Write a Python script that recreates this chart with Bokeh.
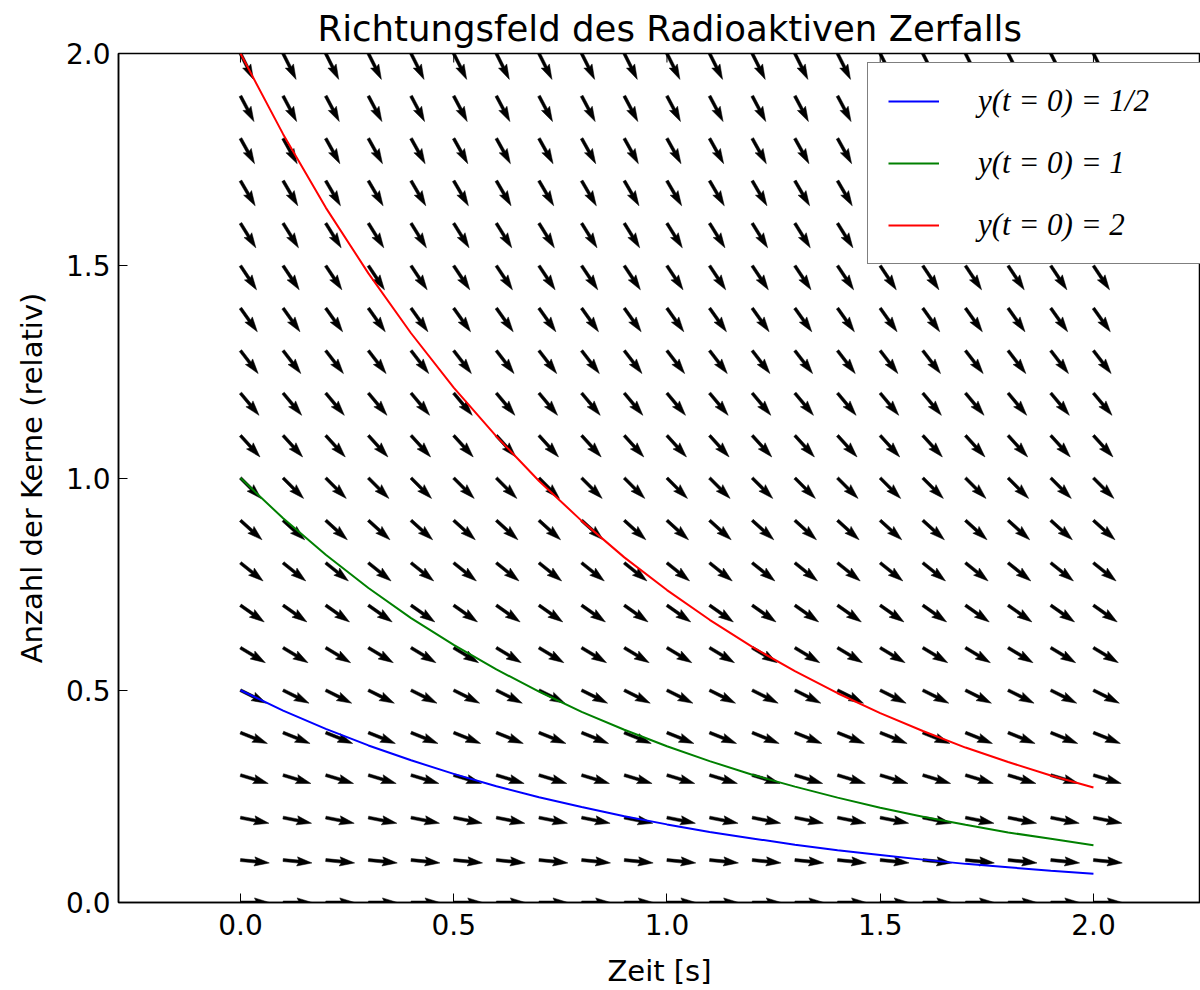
import math
from bokeh.plotting import figure
from bokeh.models import Range1d, Legend, LegendItem, FixedTicker, ColumnDataSource, PrintfTickFormatter
from bokeh.embed import file_html
from bokeh.resources import INLINE

# ---- data ----
curve_t = [0.0, 0.1, 0.2, 0.3, 0.4, 0.5, 0.6, 0.7, 0.8, 0.9, 1.0,
           1.1, 1.2, 1.3, 1.4, 1.5, 1.6, 1.7, 1.8, 1.9, 2.0]
curve_half = [0.500, 0.452, 0.409, 0.370, 0.335, 0.303, 0.274, 0.248, 0.225, 0.203, 0.184,
              0.166, 0.151, 0.136, 0.123, 0.112, 0.101, 0.091, 0.083, 0.075, 0.068]
curve_one = [1.000, 0.905, 0.819, 0.741, 0.670, 0.607, 0.549, 0.497, 0.449, 0.407, 0.368,
             0.333, 0.301, 0.273, 0.247, 0.223, 0.202, 0.183, 0.165, 0.150, 0.135]
curve_two = [2.000, 1.810, 1.637, 1.482, 1.341, 1.213, 1.098, 0.993, 0.899, 0.813, 0.736,
             0.666, 0.602, 0.545, 0.493, 0.446, 0.404, 0.365, 0.331, 0.299, 0.271]
curve_labels = ["y(t = 0) = 1/2", "y(t = 0) = 1", "y(t = 0) = 2"]
curve_colors = ["#0000ff", "#008000", "#ff0000"]

field_t = [0.0, 0.1, 0.2, 0.3, 0.4, 0.5, 0.6, 0.7, 0.8, 0.9, 1.0,
           1.1, 1.2, 1.3, 1.4, 1.5, 1.6, 1.7, 1.8, 1.9, 2.0]
field_y = [0.0, 0.1, 0.2, 0.3, 0.4, 0.5, 0.6, 0.7, 0.8, 0.9, 1.0,
           1.1, 1.2, 1.3, 1.4, 1.5, 1.6, 1.7, 1.8, 1.9, 2.0]
field_slope = [0.0, -0.1, -0.2, -0.3, -0.4, -0.5, -0.6, -0.7, -0.8, -0.9, -1.0,
               -1.1, -1.2, -1.3, -1.4, -1.5, -1.6, -1.7, -1.8, -1.9, -2.0]

x_ticks = [0.0, 0.5, 1.0, 1.5, 2.0]
y_ticks = [0.0, 0.5, 1.0, 1.5, 2.0]

title_text = "Richtungsfeld des Radioaktiven Zerfalls"
x_label = "Zeit [s]"
y_label = "Anzahl der Kerne (relativ)"

# ---- layout ----
W, H = 1200, 990
ML, MR, MT, MB = 118, 0, 53, 87
X0, X1 = -0.286, 2.251
Y0, Y1 = 0.0, 2.0
FW, FH = W - ML - MR, H - MT - MB
kx = FW / (X1 - X0)
ky = FH / (Y1 - Y0)

p = figure(width=W, height=H, output_backend="svg", toolbar_location=None,
           x_range=Range1d(X0, X1), y_range=Range1d(Y0, Y1),
           min_border_left=ML, min_border_right=MR, min_border_top=MT, min_border_bottom=MB,
           x_axis_label=x_label, y_axis_label=y_label)
p.title.text = title_text
p.title.align = "left"
p.title.text_font = "DejaVu Sans"
p.title.text_font_size = "35.5px"
p.title.text_font_style = "normal"
p.title.text_color = "black"
p.title.standoff = 9
p.title.offset = 199
p.grid.visible = False
p.outline_line_color = "black"
p.outline_line_width = 1.5
p.background_fill_color = "white"
p.border_fill_color = "white"

for ax, ticks in ((p.xaxis[0], x_ticks), (p.yaxis[0], y_ticks)):
    ax.ticker = FixedTicker(ticks=ticks)
    ax.formatter = PrintfTickFormatter(format="%.1f")
    ax.major_tick_in = 9
    ax.major_tick_out = 0
    ax.minor_tick_line_color = None
    ax.major_tick_line_width = 1
    ax.axis_line_width = 1.5
    ax.major_label_text_font = "DejaVu Sans"
    ax.major_label_text_font_size = "28px"
    ax.major_label_text_color = "black"
    ax.axis_label_text_font = "DejaVu Sans"
    ax.axis_label_text_font_size = "29px"
    ax.axis_label_text_font_style = "normal"
    ax.axis_label_text_color = "black"
p.xaxis[0].major_label_standoff = 11
p.yaxis[0].major_label_standoff = 8
p.xaxis[0].axis_label_standoff = 16
p.yaxis[0].axis_label_standoff = 14

# top-edge ticks (matplotlib classic style)
p.segment(x0=x_ticks, y0=[Y1] * len(x_ticks), x1=x_ticks,
          y1=[Y1 - 9.0 / ky] * len(x_ticks), line_color="black", line_width=1)

# ---- direction field (quiver-like arrows) ----
L, hw, hh, hl, hal = 29.0, 1.5, 4.6, 15.0, 13.5
xs, ys = [], []
for yv, s in zip(field_y, field_slope):
    n = math.hypot(1.0, s)
    ux, uy = 1.0 / n, s / n
    nx, ny = -uy, ux
    for tv in field_t:
        local = [(0, -hw), (L - hal, -hw), (L - hl, -hh), (L, 0),
                 (L - hl, hh), (L - hal, hw), (0, hw)]
        px = [tv + (a * ux + b * nx) / kx for a, b in local]
        py = [yv + (a * uy + b * ny) / ky for a, b in local]
        xs.append(px)
        ys.append(py)
p.patches(xs, ys, fill_color="black", line_color="black", line_width=0.5)

# ---- solution curves ----
items = []
for vals, lab, col in zip((curve_half, curve_one, curve_two), curve_labels, curve_colors):
    src = ColumnDataSource(dict(t=curve_t, y=vals))
    r = p.line("t", "y", source=src, line_color=col, line_width=2)
    items.append(LegendItem(label=lab, renderers=[r]))

legend = Legend(items=items, location=(749, 638))
legend.label_text_font = "Liberation Serif"
legend.label_text_font_style = "italic"
legend.label_text_font_size = "31px"
legend.label_text_color = "black"
legend.glyph_width = 51
legend.glyph_height = 36
legend.label_height = 36
legend.label_width = 205
legend.label_standoff = 39
legend.spacing = 26
legend.padding = 20
legend.margin = 0
legend.border_line_color = "black"
legend.border_line_width = 1.5
legend.background_fill_color = "white"
legend.background_fill_alpha = 1.0
p.add_layout(legend)

open("out.html", "w").write(file_html(p, INLINE))
